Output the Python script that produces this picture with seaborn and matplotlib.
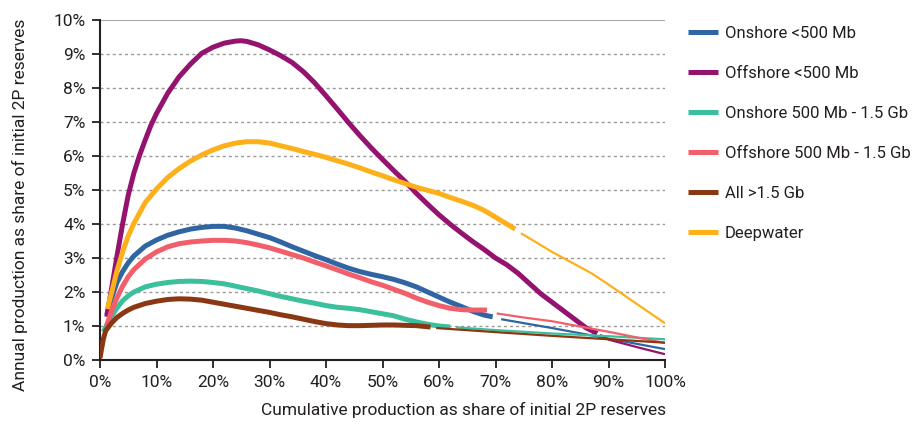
import matplotlib
matplotlib.use("Agg")
import matplotlib.pyplot as plt
from matplotlib.lines import Line2D
from matplotlib.ticker import FuncFormatter
import seaborn as sns

# ---------------- data (x: cumulative production %, y: annual production %) -------------
labels = ["Onshore <500 Mb", "Offshore <500 Mb", "Onshore 500 Mb - 1.5 Gb",
          "Offshore 500 Mb - 1.5 Gb", "All >1.5 Gb", "Deepwater"]
colors = ["#2f65a3", "#93136f", "#3cbf9d", "#f15f6b", "#8a3713", "#fdb01a"]

# observed (thick) parts
onshore_small_x = [1.2, 2, 3, 4, 5, 6, 8, 10, 12, 14, 16, 18, 20, 22, 24, 26, 28, 30, 32, 34, 36, 38,
                   40, 42, 44, 46, 48, 50, 52, 54, 56, 58, 60, 62, 64, 66, 68, 69.5]
onshore_small_y = [1.33, 1.8, 2.28, 2.6, 2.86, 3.06, 3.35, 3.53, 3.67, 3.77, 3.85, 3.9, 3.93, 3.93, 3.88,
                   3.8, 3.7, 3.6, 3.47, 3.33, 3.2, 3.07, 2.95, 2.82, 2.7, 2.6, 2.52, 2.45, 2.37, 2.27,
                   2.15, 2.0, 1.85, 1.7, 1.57, 1.43, 1.32, 1.27]

offshore_small_x = [1.2, 2, 3, 4, 5, 6, 7, 8, 9, 10, 12, 14, 16, 18, 20, 22, 24, 25, 26, 28, 30, 32,
                    34, 36, 38, 40, 42, 44, 46, 48, 50, 52, 54, 56, 58, 60, 62, 64, 66, 68, 70, 72,
                    74, 76, 78, 80, 82, 84, 86, 88]
offshore_small_y = [1.27, 2.05, 3.05, 4.0, 4.85, 5.5, 6.02, 6.47, 6.9, 7.25, 7.85, 8.33, 8.7, 9.02, 9.2,
                    9.32, 9.38, 9.39, 9.37, 9.27, 9.12, 8.95, 8.75, 8.48, 8.15, 7.77, 7.38, 6.98, 6.6,
                    6.24, 5.9, 5.57, 5.25, 4.9, 4.58, 4.27, 3.99, 3.73, 3.48, 3.25, 3.0, 2.8, 2.55,
                    2.25, 1.95, 1.7, 1.45, 1.2, 0.95, 0.78]

onshore_mid_x = [0.6, 1, 2, 3, 4, 5, 6, 8, 10, 12, 14, 16, 18, 20, 22, 24, 26, 28, 30, 32, 34, 36, 38,
                 40, 42, 44, 46, 48, 50, 52, 54, 56, 58, 60, 62]
onshore_mid_y = [0.83, 0.96, 1.27, 1.53, 1.74, 1.89, 2.0, 2.15, 2.23, 2.28, 2.31, 2.32, 2.31, 2.28, 2.24,
                 2.17, 2.1, 2.03, 1.95, 1.87, 1.8, 1.73, 1.67, 1.6, 1.55, 1.52, 1.48, 1.42, 1.36,
                 1.3, 1.2, 1.12, 1.05, 1.0, 0.97]

offshore_mid_x = [1.1, 2, 3, 4, 5, 6, 8, 10, 12, 14, 16, 18, 20, 22, 24, 26, 28, 30, 32, 34, 36, 38,
                  40, 42, 44, 46, 48, 50, 52, 54, 56, 58, 60, 62, 64, 66, 68.5]
offshore_mid_y = [0.98, 1.42, 1.83, 2.17, 2.45, 2.66, 2.97, 3.18, 3.33, 3.42, 3.47, 3.5, 3.52, 3.52, 3.5,
                  3.45, 3.38, 3.3, 3.2, 3.1, 3.0, 2.88, 2.77, 2.65, 2.53, 2.42, 2.3, 2.2, 2.08, 1.96,
                  1.82, 1.7, 1.6, 1.52, 1.48, 1.47, 1.47]

large_x = [0, 0.3, 0.6, 1, 2, 3, 4, 5, 6, 8, 10, 12, 14, 16, 18, 20, 22, 24, 26, 28, 30, 32, 34, 36,
           38, 40, 42, 44, 46, 48, 50, 52, 54, 56, 58.5]
large_y = [0.05, 0.35, 0.62, 0.86, 1.08, 1.25, 1.37, 1.47, 1.55, 1.66, 1.73, 1.78, 1.8, 1.79, 1.76, 1.7,
           1.64, 1.58, 1.52, 1.46, 1.4, 1.33, 1.27, 1.2, 1.13, 1.07, 1.03, 1.01, 1.01, 1.02, 1.03,
           1.03, 1.02, 1.01, 0.97]

deep_x = [1.3, 2, 3, 4, 5, 6, 8, 10, 12, 14, 16, 18, 20, 22, 24, 26, 28, 30, 32, 34, 36, 38, 40, 42,
          44, 46, 48, 50, 52, 54, 56, 58, 60, 62, 64, 66, 68, 70, 72, 73.5]
deep_y = [1.5, 1.95, 2.62, 3.18, 3.65, 4.02, 4.63, 5.03, 5.37, 5.63, 5.85, 6.03, 6.18, 6.3, 6.38, 6.42,
          6.42, 6.38, 6.3, 6.22, 6.13, 6.05, 5.96, 5.86, 5.76, 5.65, 5.53, 5.42, 5.3, 5.19, 5.08,
          4.99, 4.9, 4.78, 4.67, 4.55, 4.4, 4.2, 4.0, 3.85]

# projected (thin) parts
onshore_small_px = [71, 80, 90, 100]
onshore_small_py = [1.2, 0.94, 0.63, 0.32]
offshore_small_px = [88.5, 90, 95, 100]
offshore_small_py = [0.74, 0.6, 0.38, 0.17]
onshore_mid_px = [63, 70, 80, 90, 100]
onshore_mid_py = [0.96, 0.88, 0.78, 0.7, 0.61]
offshore_mid_px = [70.2, 75, 80, 90, 100]
offshore_mid_py = [1.37, 1.25, 1.14, 0.83, 0.5]
large_px = [59.5, 70, 80, 90, 100]
large_py = [0.94, 0.82, 0.71, 0.61, 0.51]
deep_px = [74.5, 80, 87, 90, 95, 100]
deep_py = [3.73, 3.18, 2.55, 2.22, 1.65, 1.08]

yticks = [0, 1, 2, 3, 4, 5, 6, 7, 8, 9, 10]
xticks = [0, 10, 20, 30, 40, 50, 60, 70, 80, 90, 100]

observed = [(onshore_small_x, onshore_small_y), (offshore_small_x, offshore_small_y),
            (onshore_mid_x, onshore_mid_y), (offshore_mid_x, offshore_mid_y),
            (large_x, large_y), (deep_x, deep_y)]
projected = [(onshore_small_px, onshore_small_py), (offshore_small_px, offshore_small_py),
             (onshore_mid_px, onshore_mid_py), (offshore_mid_px, offshore_mid_py),
             (large_px, large_py), (deep_px, deep_py)]

# ---------------- figure ----------------
sns.set_theme(style="white")
plt.rcParams["font.family"] = ["Roboto", "DejaVu Sans"]
text_color = "#231f20"

fig = plt.figure(figsize=(9.16, 4.24), dpi=100)
ax = fig.add_axes([100 / 916, 64 / 424, 565 / 916, 340 / 424])

for i, (lab, col) in enumerate(zip(labels, colors)):
    ox, oy = observed[i]
    px, py = projected[i]
    sns.lineplot(x=ox, y=oy, ax=ax, color=col, linewidth=3.6, sort=False,
                 estimator=None, solid_capstyle="butt", solid_joinstyle="round", zorder=3)
    sns.lineplot(x=px, y=py, ax=ax, color=col, linewidth=1.6, sort=False,
                 estimator=None, solid_capstyle="butt", zorder=3)

ax.set_xlim(0, 100)
ax.set_ylim(0, 10)
ax.set_xticks(xticks)
ax.set_yticks(yticks)
ax.xaxis.set_major_formatter(FuncFormatter(lambda v, p: f"{v:.0f}%"))
ax.yaxis.set_major_formatter(FuncFormatter(lambda v, p: f"{v:.0f}%"))

for y in yticks[1:-1]:
    ax.axhline(y, color="#9a9a9a", linewidth=1.0, linestyle=(0, (2.2, 2.2)), zorder=1)
ax.axhline(10, color="#8c939b", linewidth=1.2, zorder=1)

for s in ["top", "right"]:
    ax.spines[s].set_visible(False)
for s in ["left", "bottom"]:
    ax.spines[s].set_color("#231f20")
    ax.spines[s].set_linewidth(1.5)

ax.tick_params(axis="both", which="major", direction="out", length=5.5, width=1.3,
               color="#231f20", labelsize=12.5, labelcolor=text_color, pad=5)
ax.tick_params(left=True, bottom=True)

ax.set_xlabel("Cumulative production as share of initial 2P reserves", fontsize=12.5,
              color=text_color)
ax.set_ylabel("Annual production as share of initial 2P reserves", fontsize=12.5,
              color=text_color)
ax.xaxis.set_label_coords(0.644, -0.122)
ax.yaxis.set_label_coords(-0.128, 0.456)

handles = [Line2D([0], [0], color=c, linewidth=3.6, solid_capstyle="butt") for c in colors]
leg = fig.legend(handles, labels, loc="upper left", bbox_to_anchor=(688 / 916, 1 - 26 / 424),
                 frameon=False, fontsize=12, handlelength=1.8, handletextpad=0.4,
                 labelspacing=1.5, borderaxespad=0, borderpad=0)
for t in leg.get_texts():
    t.set_color(text_color)

fig.savefig("out.png", dpi=100)
